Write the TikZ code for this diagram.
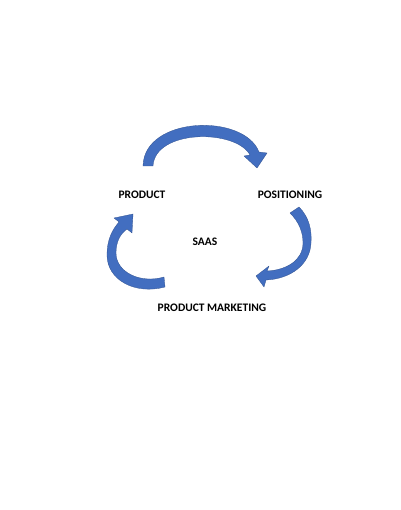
\documentclass[tikz,border=0pt]{standalone}
\usepackage{fontspec}
\setmainfont{Carlito}
\begin{document}
\begin{tikzpicture}[x=1pt,y=-1pt,
  lbl/.style={font=\bfseries\fontsize{11.5}{13}\selectfont, text=black, inner sep=0pt},
  curvarrow/.style={fill=arrowblue, draw=arrowblue!75!black, line width=0.3pt, line join=round}]
\definecolor{arrowblue}{RGB}{66,110,192}
\useasboundingbox[fill=white] (0,0) rectangle (400,510);
% labels
\node[lbl] (product) at (142,195) {PRODUCT};
\node[lbl] (positioning) at (290,195) {POSITIONING};
\node[lbl] (saas) at (205,242) {SAAS};
\node[lbl] (marketing) at (212,308) {PRODUCT MARKETING};
% top arrow (PRODUCT -> POSITIONING)
\path[curvarrow] (143,166) -- (153,166)
  .. controls (155,129) and (236,129) .. (250,155)
  -- (244,156) -- (257,168) -- (267,153) -- (259,152)
  .. controls (244,113) and (144,116) .. (143,166) -- cycle;
% right arrow (POSITIONING -> PRODUCT MARKETING)
\path[curvarrow] (290,213) -- (299,207)
  .. controls (309,217) and (312,230) .. (311,243)
  .. controls (310,265) and (290,279) .. (266,280)
  -- (264,287) -- (256,276) -- (269,266) -- (267,271)
  .. controls (287,270) and (303,260) .. (303,243)
  .. controls (303,232) and (299,222) .. (290,213) -- cycle;
% left arrow (PRODUCT MARKETING -> PRODUCT)
\path[curvarrow] (164,277) -- (165,287)
  .. controls (135,295) and (107,280) .. (107,255)
  .. controls (107,240) and (112,230) .. (119,222)
  -- (114,218) -- (133,214) -- (132,233) -- (127,229)
  .. controls (120,234) and (116,242) .. (116,253)
  .. controls (116,272) and (140,284) .. (164,277) -- cycle;
\end{tikzpicture}
\end{document}
